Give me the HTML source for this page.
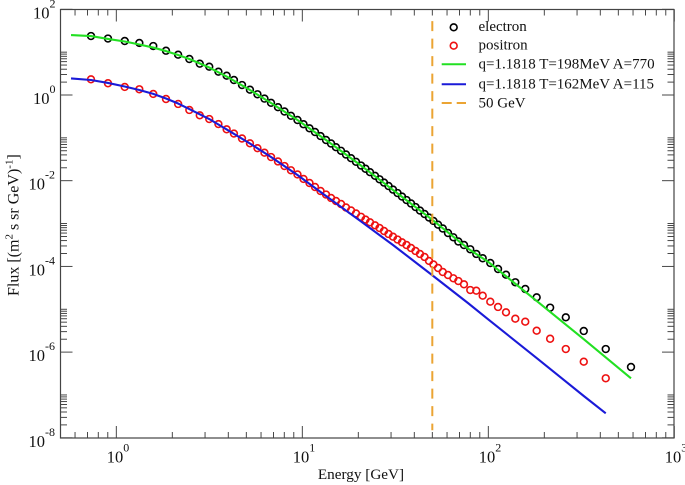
<!DOCTYPE html>
<html>
<head>
<meta charset="utf-8">
<title>Electron and positron flux</title>
<style>
html,body{margin:0;padding:0;background:#fff;width:685px;height:485px;overflow:hidden}
svg{display:block}
text{font-family:"Liberation Serif",serif;fill:#111}
</style>
</head>
<body>
<svg id="chart" xmlns="http://www.w3.org/2000/svg" width="685" height="485" viewBox="0 0 685 485">
  <g id="ticks"></g>
  <g id="labels"></g>
  <g id="marks"></g>
  <rect x="60.5" y="9.5" width="613.5" height="428.5" fill="none" stroke="#444" stroke-width="1.2"></rect>
  <text x="361" y="479" font-size="15.2" text-anchor="middle">Energy [GeV]</text>
  <text transform="translate(18.5,296) rotate(-90)" font-size="16">Flux [(m<tspan font-size="11" dy="-6">2</tspan><tspan dy="6"> s sr GeV)</tspan><tspan font-size="11" dy="-6">-1</tspan><tspan dy="6">]</tspan></text>
  <g>
    <circle cx="453.7" cy="27.3" r="3.4" fill="none" stroke="#000" stroke-width="1.6"></circle>
    <text x="478.5" y="31" font-size="15">electron</text>
    <circle cx="453.7" cy="45.7" r="3.4" fill="none" stroke="#ee1111" stroke-width="1.6"></circle>
    <text x="478.5" y="49.5" font-size="15">positron</text>
    <line x1="441.7" x2="466" y1="64.3" y2="64.3" stroke="#22e022" stroke-width="2"></line>
    <text x="478.5" y="68.5" font-size="15">q=1.1818 T=198MeV A=770</text>
    <line x1="441.7" x2="466" y1="84.3" y2="84.3" stroke="#1a1ad8" stroke-width="2"></line>
    <text x="478.5" y="88.5" font-size="15">q=1.1818 T=162MeV A=115</text>
    <line x1="441.7" x2="466" y1="103" y2="103" stroke="#eba433" stroke-width="2" stroke-dasharray="10 5"></line>
    <text x="478.5" y="107.5" font-size="15">50 GeV</text>
  </g>
</svg>
<script>
var xTickDecades = [0, 1, 2, 3];
var yTickDecades = [-8, -6, -4, -2, 0, 2];
var minorMultipliers = [2, 3, 4, 5, 6, 7, 8, 9];
var yMinorMultipliers = [2, 3, 4, 5, 6, 7, 8, 9, 10];

var dataEnergy = [0.731,0.902,1.11,1.33,1.58,1.85,2.15,2.47,2.81,3.16,3.54,3.92,4.29,4.74,5.23,5.74,6.26,6.79,7.40,8.02,8.69,9.42,10.15,10.93,11.70,12.53,13.41,14.27,15.17,16.15,17.17,18.28,19.44,20.68,21.87,23.12,24.60,26.01,27.50,29.07,30.73,32.49,34.36,36.32,38.41,40.6,42.9,45.4,48.0,50.7,53.7,56.9,60.7,64.9,69.0,74.0,80.0,86.2,93.3,102.5,112.8,124.5,139.7,158,182,215,261,326,428,585];
var electronFlux = [23.8,20.8,18.2,16.4,13.9,10.8,8.72,6.92,5.38,4.58,3.50,2.82,2.24,1.71,1.33,1.04,0.824,0.658,0.519,0.412,0.327,0.261,0.208,0.167,0.137,0.110,0.0891,0.0738,0.0605,0.0499,0.0409,0.0335,0.0276,0.0226,0.0190,0.0158,0.0130,0.0108,0.00903,0.00752,0.00620,0.00516,0.00426,0.00354,0.00294,0.00243,0.00201,0.00167,0.00138,0.00115,0.000940,0.000766,0.000602,0.000478,0.000381,0.000316,0.000251,0.000195,0.000155,0.000120,0.0000870,0.0000640,0.0000426,0.0000297,0.0000190,0.0000109,0.00000649,0.00000311,0.00000118,4.49e-7];
var positronFlux = [2.32,1.88,1.54,1.36,1.06,0.807,0.617,0.447,0.336,0.275,0.210,0.158,0.126,0.0966,0.0746,0.0574,0.0450,0.0357,0.0281,0.0220,0.0175,0.0140,0.0110,0.00884,0.00713,0.00575,0.00476,0.00395,0.00336,0.00286,0.00237,0.00202,0.00172,0.00144,0.00124,0.00107,0.000910,0.000787,0.000670,0.000571,0.000493,0.000424,0.000365,0.000316,0.000269,0.000229,0.000195,0.000166,0.000134,0.000111,0.0000918,0.0000740,0.0000630,0.0000528,0.0000456,0.0000382,0.0000281,0.0000271,0.0000207,0.0000150,0.0000113,0.00000849,0.00000602,0.00000512,0.00000316,0.00000205,0.00000118,5.97e-7,2.45e-7];

var electronFitEnergy = [0.571,0.731,0.902,1.11,1.33,1.58,1.85,2.15,2.47,3.16,3.92,5.23,6.79,9.42,13.41,20.68,30.73,49.8,77.7,100,182,326,585];
var electronFitFlux = [25.1,23.7,20.3,17.7,15.1,12.8,10.6,8.58,6.92,4.38,2.70,1.31,0.651,0.261,0.0891,0.0226,0.00607,0.00124,0.000262,0.000127,0.0000156,0.00000200,2.45e-7];
var positronFitEnergy = [0.571,0.731,0.902,1.11,1.33,1.58,1.85,2.15,2.47,3.16,3.92,5.23,6.79,9.42,13.41,20.68,30.73,49.8,77.7,100,182,326,428];
var positronFitFlux = [2.43,2.24,1.91,1.58,1.31,1.06,0.829,0.633,0.471,0.275,0.157,0.0738,0.0357,0.0136,0.00440,0.00112,0.000316,0.0000630,0.0000140,0.00000577,7.28e-7,9.45e-8,3.73e-8];
var referenceEnergy = [50];
var referenceFluxRange = [1.5e-8, 53];

var NS = 'http://www.w3.org/2000/svg';
function xScale(e) { return 116.3 + 186 * Math.log10(e); }
function yScale(f) { return 95 + 42.85 * (0 - Math.log10(f)); }
var tickG = document.getElementById('ticks');
var labelG = document.getElementById('labels');
var markG = document.getElementById('marks');

function make(tag, parent, attrs) {
  var el = document.createElementNS(NS, tag);
  for (var k in attrs) el.setAttribute(k, attrs[k]);
  parent.appendChild(el);
  return el;
}
function tick(x1, y1, x2, y2) {
  var el = make('line', tickG, {x1: x1, y1: y1, x2: x2, y2: y2, stroke: '#333', 'stroke-width': 0.9});
  
  
}
var L = 60.5, R = 674, T = 9.5, B = 438;

xTickDecades.forEach(function (d) {
  var x = xScale(Math.pow(10, d));
  tick(x, B, x, B - 12);
  tick(x, T, x, T + 12);
  if (d < 3) minorMultipliers.forEach(function (m) {
    var xm = xScale(m * Math.pow(10, d));
    tick(xm, B, xm, B - 6);
    tick(xm, T, xm, T + 6);
  });
});
[6, 7, 8, 9].forEach(function (m) {
  var xm = xScale(m / 10);
  tick(xm, B, xm, B - 6);
  tick(xm, T, xm, T + 6);
});
yTickDecades.forEach(function (d) {
  var y = yScale(Math.pow(10, d));
  tick(L, y, L + 12, y);
  tick(R, y, R - 12, y);
  if (d < 2) yMinorMultipliers.forEach(function (m) {
    var ym = yScale(m * Math.pow(10, d));
    tick(L, ym, L + 6.5, ym);
    tick(R, ym, R - 6.5, ym);
  });
});

function powerLabel(x, y, exp, name) {
  var t = make('text', labelG, {x: x, y: y, 'font-size': 16.5});
  
  
  t.appendChild(document.createTextNode('10'));
  var s = make('tspan', t, {'font-size': 12, dy: -11});
  s.textContent = exp;
}
xTickDecades.forEach(function (d) {
  powerLabel(xScale(Math.pow(10, d)) - 9.5, 462.5, String(d), 'x-tick-label');
});
yTickDecades.forEach(function (d) {
  var y = yScale(Math.pow(10, d));
  var x = d < 0 ? 28.5 : 33;
  powerLabel(x, y + 9, String(d), 'y-tick-label');
});

function circles(xs, ys, color, name) {
  var g = make('g', markG, {fill: 'none', stroke: color, 'stroke-width': 1.6});
  
  
  ys.forEach(function (f, i) {
    var c = make('circle', g, {cx: xScale(xs[i]), cy: yScale(f), r: 3.4});
    
    
  });
}
function line(xs, ys, color, name) {
  var pts = xs.map(function (e, i) { return xScale(e).toFixed(2) + ',' + yScale(ys[i]).toFixed(2); }).join(' ');
  var p = make('polyline', markG, {points: pts, fill: 'none', stroke: color, 'stroke-width': 2.1, 'stroke-linejoin': 'round'});
  
  
}
circles(dataEnergy, electronFlux, '#000', 'electron-points');
circles(dataEnergy, positronFlux, '#ee1111', 'positron-points');
line(electronFitEnergy, electronFitFlux, '#22e022', 'electron-fit-line');
line(positronFitEnergy, positronFitFlux, '#1a1ad8', 'positron-fit-line');

var refLine = make('line', markG, {
  x1: xScale(referenceEnergy[0]), x2: xScale(referenceEnergy[0]),
  y1: yScale(referenceFluxRange[1]), y2: yScale(referenceFluxRange[0]),
  stroke: '#eba433', 'stroke-width': 2, 'stroke-dasharray': '10 7.5'
});


</script>
</body>
</html>
